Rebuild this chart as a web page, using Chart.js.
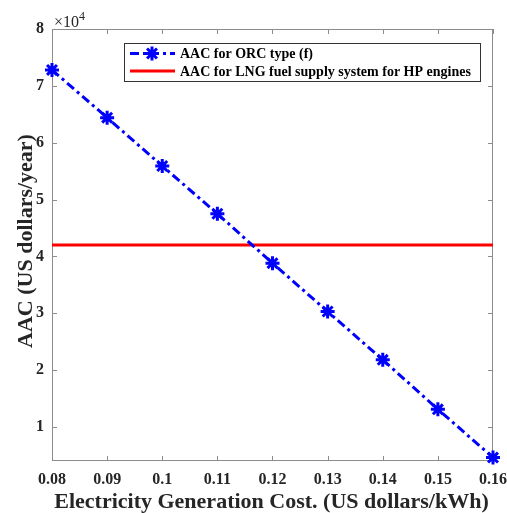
<!DOCTYPE html>
<html>
<head>
<meta charset="utf-8">
<script src="https://cdn.jsdelivr.net/npm/chart.js@4"></script>
<style>
  html, body { margin: 0; padding: 0; background: #fff; }
  #wrap { width: 507px; height: 513px; position: relative; }
</style>
</head>
<body>
<div id="wrap"><canvas id="aacchart"></canvas></div>
<script>
const elec_cost = [0.08, 0.09, 0.10, 0.11, 0.12, 0.13, 0.14, 0.15, 0.16]
const aac_orc = [72800, 64400, 55900, 47500, 38800, 30300, 21800, 13100, 4600]
const aac_lng = 42000
const x_ticks = [0.08, 0.09, 0.1, 0.11, 0.12, 0.13, 0.14, 0.15, 0.16]
const y_ticks = [10000, 20000, 30000, 40000, 50000, 60000, 70000, 80000]
const legend_labels = ["AAC for ORC type (f)", "AAC for LNG fuel supply system for HP engines"]

const serif = "'Liberation Serif', 'Times New Roman', serif"
const axis_grey = '#8c8c8c'
const text_col = '#262626'

orc_points = []
for (let i = 0; i < elec_cost.length; i++) {
    orc_points.push({ x: elec_cost[i], y: aac_orc[i] })
}
lng_points = [
    { x: elec_cost[0], y: aac_lng },
    { x: elec_cost[elec_cost.length - 1], y: aac_lng }
]

// box, inward ticks, x10^4, axis titles and legend like matlab
const matlab_look = {
    id: 'matlab_look',
    beforeDatasetsDraw(chart) {
        const ctx = chart.ctx
        const a = chart.chartArea
        const xs = chart.scales.x
        const ys = chart.scales.y
        ctx.save()
        ctx.strokeStyle = axis_grey
        ctx.lineWidth = 1
        ctx.strokeRect(a.left + 0.5, a.top + 0.5, a.right - a.left - 1, a.bottom - a.top - 1)
        ctx.beginPath()
        x_ticks.forEach(v => {
            const px = Math.round(xs.getPixelForValue(v)) + 0.5
            ctx.moveTo(px, a.bottom); ctx.lineTo(px, a.bottom - 5)
            ctx.moveTo(px, a.top); ctx.lineTo(px, a.top + 5)
        })
        y_ticks.forEach(v => {
            const py = Math.round(ys.getPixelForValue(v)) + 0.5
            ctx.moveTo(a.left, py); ctx.lineTo(a.left + 5, py)
            ctx.moveTo(a.right, py); ctx.lineTo(a.right - 5, py)
        })
        ctx.stroke()
        ctx.restore()
    },
    afterDraw(chart) {
        const ctx = chart.ctx
        const a = chart.chartArea
        ctx.save()
        // exponent label
        ctx.fillStyle = text_col
        ctx.textBaseline = 'alphabetic'
        ctx.textAlign = 'left'
        ctx.font = '16px ' + serif
        ctx.fillText('\u00d710', a.left + 2, 27)
        ctx.font = '12px ' + serif
        ctx.fillText('4', a.left + 27, 20)

        // axis titles
        ctx.font = 'bold 22px ' + serif
        ctx.textAlign = 'center'
        ctx.fillText('Electricity Generation Cost. (US dollars/kWh)', (a.left + a.right) / 2 - 1, 508)
        ctx.save()
        ctx.translate(32, (a.top + a.bottom) / 2 - 4)
        ctx.rotate(-Math.PI / 2)
        ctx.fillText('AAC (US dollars/year)', 0, 0)
        ctx.restore()

        // legend
        const bx = 124, by = 43, bw = 356, bh = 38
        ctx.fillStyle = '#fff'
        ctx.fillRect(bx, by, bw, bh)
        ctx.strokeStyle = '#333'
        ctx.lineWidth = 1
        ctx.strokeRect(bx + 0.5, by + 0.5, bw, bh)
        const rows = [by + 10.5, by + 28]
        ctx.strokeStyle = '#0000ff'
        ctx.lineWidth = 3
        ctx.setLineDash([9, 4, 3, 4])
        ctx.beginPath()
        ctx.moveTo(bx + 6, rows[0]); ctx.lineTo(bx + 51, rows[0])
        ctx.stroke()
        ctx.setLineDash([])
        Chart.helpers.drawPoint(ctx, { pointStyle: 'star', radius: 7, rotation: 0, borderWidth: 3 }, bx + 28, rows[0])
        ctx.strokeStyle = '#ff0000'
        ctx.lineWidth = 3
        ctx.beginPath()
        ctx.moveTo(bx + 6, rows[1]); ctx.lineTo(bx + 51, rows[1])
        ctx.stroke()
        ctx.fillStyle = '#000'
        ctx.textAlign = 'left'
        ctx.textBaseline = 'middle'
        ctx.font = 'bold 14px ' + serif
        ctx.fillText(legend_labels[0], bx + 56, rows[0] + 1)
        ctx.fillText(legend_labels[1], bx + 56, rows[1] + 1)
        ctx.restore()
    }
}

new Chart(
    document.getElementById('aacchart'),
    {
        type: 'line',
        data: {
            datasets: [
                {
                    label: legend_labels[0],
                    data: orc_points,
                    borderColor: '#0000ff',
                    backgroundColor: '#0000ff',
                    borderWidth: 3,
                    borderDash: [9, 4, 3, 4],
                    pointStyle: 'star',
                    pointRadius: 7,
                    pointBorderWidth: 3,
                    clip: false,
                    fill: false
                },
                {
                    label: legend_labels[1],
                    data: lng_points,
                    borderColor: '#ff0000',
                    borderWidth: 3,
                    pointRadius: 0,
                    clip: false,
                    fill: false
                }
            ]
        },
        options: {
            responsive: true,
            maintainAspectRatio: false,
            animation: false,
            layout: { padding: { top: 29, right: 14, left: 0, bottom: 0 } },
            plugins: {
                legend: { display: false },
                tooltip: { enabled: false }
            },
            scales: {
                x: {
                    type: 'linear',
                    min: 0.08,
                    max: 0.16,
                    afterBuildTicks: s => { s.ticks = x_ticks.map(v => ({ value: v })) },
                    afterFit: s => { s.height = 52; s.paddingLeft = 0; s.paddingRight = 0 },
                    grid: { display: false, drawTicks: false },
                    border: { display: false },
                    ticks: {
                        padding: 9,
                        color: text_col,
                        font: { family: serif, size: 16, weight: 'bold' },
                        callback: v => String(Math.round(v * 100) / 100)
                    }
                },
                y: {
                    type: 'linear',
                    min: 4000,
                    max: 80000,
                    afterBuildTicks: s => { s.ticks = y_ticks.map(v => ({ value: v })) },
                    afterFit: s => { s.width = 52; s.paddingTop = 0; s.paddingBottom = 0 },
                    grid: { display: false, drawTicks: false },
                    border: { display: false },
                    ticks: {
                        padding: 8,
                        color: text_col,
                        font: { family: serif, size: 16, weight: 'bold' },
                        callback: v => String(v / 10000)
                    }
                }
            }
        },
        plugins: [matlab_look]
    }
)
</script>
</body>
</html>
